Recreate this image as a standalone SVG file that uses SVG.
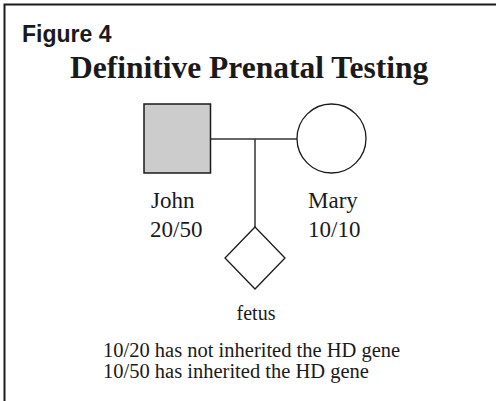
<svg xmlns="http://www.w3.org/2000/svg" width="496" height="401" viewBox="0 0 496 401">
<style>
.serif{font-family:"Liberation Serif","Times New Roman",serif;fill:#1a1a1a}
.lbl{font-size:23px}
.ln{stroke:#333;stroke-width:1.5;fill:none}
</style>
<rect x="0" y="0" width="496" height="401" fill="#fff"/>
<path d="M4.5,401 V4.5 H496" fill="none" stroke="#1a1a1a" stroke-width="2"/>
<text x="22" y="42" font-family="'Liberation Sans',Arial,sans-serif" font-weight="bold" font-size="23" fill="#1a1a1a">Figure 4</text>
<text x="70" y="78" class="serif" font-weight="bold" font-size="31.5">Definitive Prenatal Testing</text>
<g id="connectors">
<line class="ln" x1="210.5" y1="139" x2="297" y2="139"/>
<line class="ln" x1="255" y1="139" x2="255" y2="227"/>
</g>
<g id="john">
<rect x="144" y="104" width="66.5" height="69" fill="#cccccc" stroke="#1a1a1a" stroke-width="1.5"/>
<text x="151" y="208" class="serif lbl">John</text>
<text x="150" y="237" class="serif lbl">20/50</text>
</g>
<g id="mary">
<circle cx="331.5" cy="138.5" r="34.5" fill="#fff" stroke="#1a1a1a" stroke-width="1.3"/>
<text x="308" y="208" class="serif lbl">Mary</text>
<text x="308" y="237" class="serif lbl">10/10</text>
</g>
<g id="fetus">
<polygon points="255,227 285,258 255,289 225,258" fill="#fff" stroke="#1a1a1a" stroke-width="1.3"/>
<text x="256" y="320" text-anchor="middle" class="serif" font-size="20">fetus</text>
</g>
<text x="103" y="357" class="serif" font-size="20.5">10/20 has not inherited the HD gene</text>
<text x="103" y="378" class="serif" font-size="20.5">10/50 has inherited the HD gene</text>
</svg>
